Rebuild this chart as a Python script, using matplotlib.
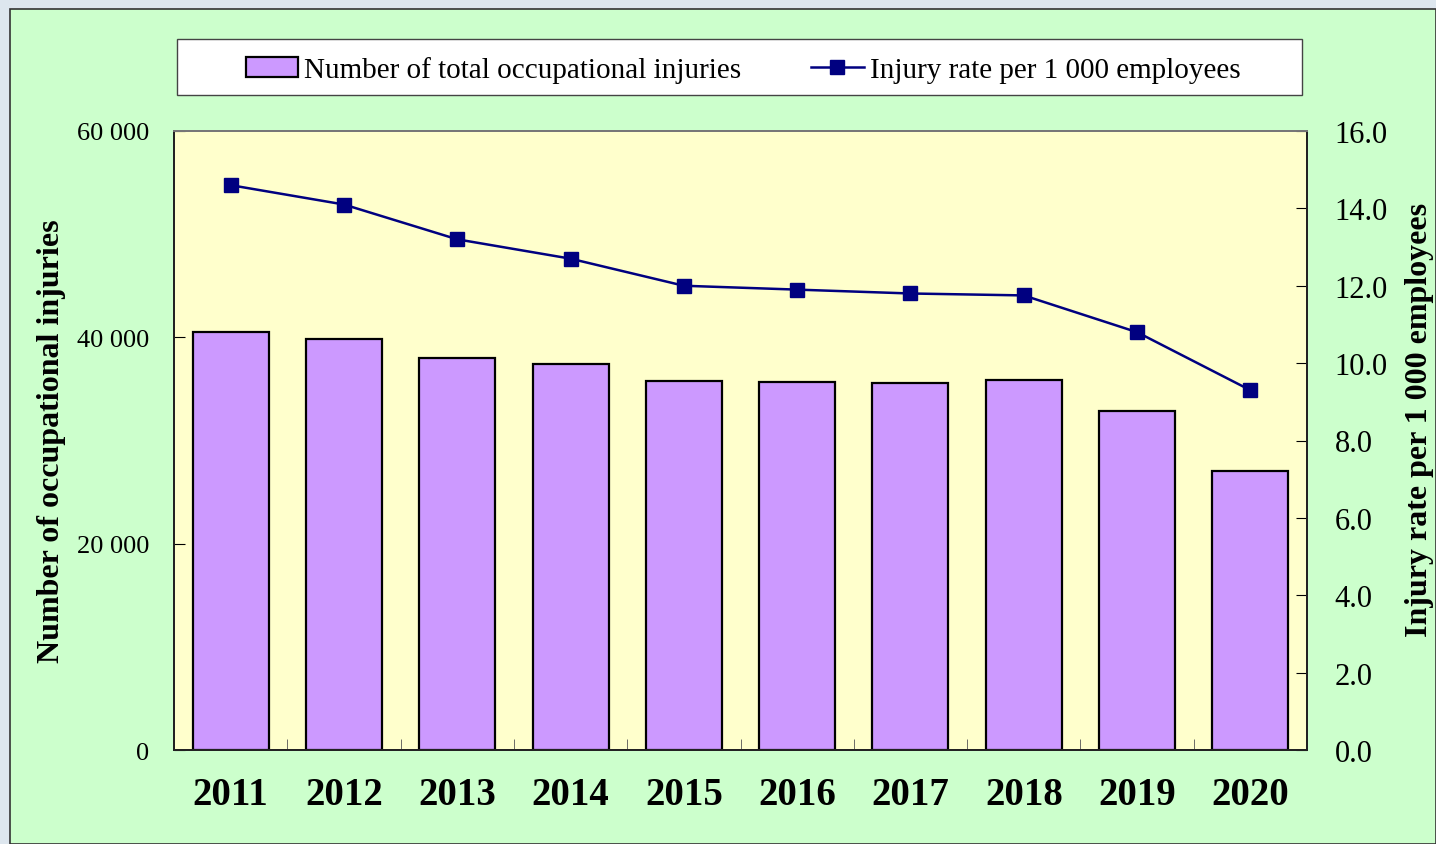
import matplotlib.pyplot as plt
import matplotlib.patches as mpatches
from matplotlib.lines import Line2D
from matplotlib.ticker import FixedLocator, FuncFormatter

years = ['2011', '2012', '2013', '2014', '2015', '2016', '2017', '2018', '2019', '2020']
injuries = [40500, 39850, 38000, 37400, 35750, 35700, 35550, 35850, 32850, 27050]
rate = [14.6, 14.1, 13.2, 12.7, 12.0, 11.9, 11.8, 11.75, 10.8, 9.3]

plt.rcParams['font.family'] = ['Liberation Serif', 'DejaVu Serif']

W, H = 1436, 845
fig = plt.figure(figsize=(W / 100, H / 100), dpi=100)
fig.patch.set_facecolor('#dde6ee')

# green chart area with dark frame
fig.patches.append(mpatches.Rectangle((10 / W, 0), 1426 / W, 835 / H,
                                      transform=fig.transFigure, facecolor='#CCFFCC',
                                      edgecolor='#333333', linewidth=1.2, zorder=-5))
# white legend box
fig.patches.append(mpatches.Rectangle((177 / W, 1 - 96 / H), 1125 / W, 56 / H,
                                      transform=fig.transFigure, facecolor='white',
                                      edgecolor='#444444', linewidth=1.0, zorder=-4))

ax = fig.add_axes([174 / W, 1 - 751 / H, 1133 / W, 619 / H])
ax.set_facecolor('#FFFFCC')

x = list(range(len(years)))
ax.bar(x, injuries, width=0.67, color='#CC99FF', edgecolor='black', linewidth=1.6, zorder=2)
ax.set_xlim(-0.5, len(years) - 0.5)
ax.set_ylim(0, 60000)
ax.set_yticks([0, 20000, 40000, 60000])
ax.yaxis.set_major_formatter(FuncFormatter(lambda v, p: f'{int(v):,}'.replace(',', ' ')))
ax.set_xticks(x)
ax.set_xticklabels(years, fontsize=28, fontweight='bold')
ax.xaxis.set_minor_locator(FixedLocator([i + 0.5 for i in range(len(years) - 1)]))
ax.tick_params(axis='x', which='major', length=0, pad=19)
ax.tick_params(axis='x', which='minor', direction='in', length=8, color='#555555')
ax.tick_params(axis='y', direction='in', length=8, labelsize=19, pad=18)
ax.set_ylabel('Number of occupational injuries', fontsize=23, fontweight='bold', labelpad=8)
for s in ax.spines.values():
    s.set_color('#222222')
    s.set_linewidth(1.4)
ax.spines['top'].set_color('#777777')

ax2 = ax.twinx()
ax2.plot(x, rate, color='#000080', linewidth=1.8, marker='s', markersize=10, zorder=3)
ax2.set_ylim(0, 16)
ax2.set_yticks([0, 2, 4, 6, 8, 10, 12, 14, 16])
ax2.yaxis.set_major_formatter(FuncFormatter(lambda v, p: f'{v:.1f}'))
ax2.tick_params(axis='y', direction='in', length=8, labelsize=22, pad=20)
ax2.set_ylabel('Injury rate per 1 000 employees', fontsize=23, fontweight='bold', labelpad=12)
ax2.yaxis.label.set_y(0.535)
for s in ax2.spines.values():
    s.set_color('#222222')
    s.set_linewidth(1.4)
ax2.spines['top'].set_color('#777777')

handles = [mpatches.Patch(facecolor='#CC99FF', edgecolor='black', linewidth=1.6),
           Line2D([], [], color='#000080', linewidth=1.8, marker='s', markersize=10)]
leg = fig.legend(handles, ['Number of total occupational injuries', 'Injury rate per 1 000 employees'],
                 loc='center', bbox_to_anchor=(743 / W, 1 - 71 / H),
                 ncol=2, fontsize=21, frameon=False, columnspacing=2.4,
                 handlelength=1.8, handletextpad=0.2, borderpad=0, borderaxespad=0)

fig.savefig('out.png', dpi=100, facecolor=fig.get_facecolor())
